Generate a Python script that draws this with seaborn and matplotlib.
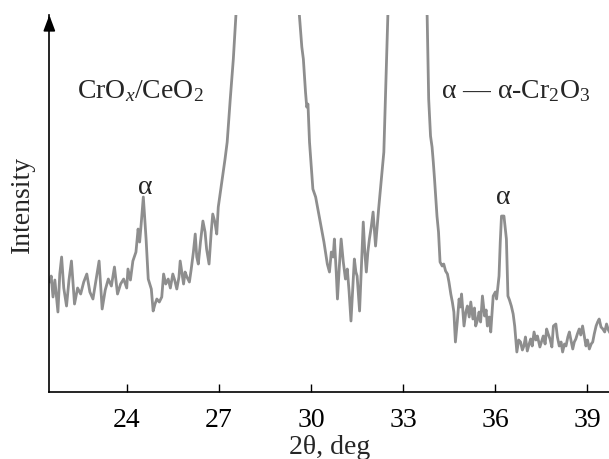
import pandas as pd
import matplotlib
matplotlib.use("Agg")
import matplotlib.pyplot as plt
import seaborn as sns

# XRD pattern of CrOx/CeO2 (arbitrary units)
two_theta = [
    21.50, 21.54, 21.60, 21.66, 21.76, 21.82, 21.88, 21.95, 22.04, 22.12,
    22.20, 22.30, 22.40, 22.50, 22.60, 22.70, 22.80, 22.90, 23.00, 23.10,
    23.20, 23.30, 23.40, 23.50, 23.60, 23.70, 23.80, 23.90, 24.00, 24.04,
    24.12, 24.20, 24.30, 24.37, 24.42, 24.47, 24.54, 24.63, 24.70, 24.80,
    24.86, 24.92, 24.98, 25.06, 25.14, 25.20, 25.27, 25.35, 25.42, 25.50,
    25.56, 25.63, 25.70, 25.74, 25.85, 25.90, 25.96, 26.04, 26.10, 26.17,
    26.23, 26.28, 26.33, 26.40, 26.48, 26.55, 26.60, 26.68, 26.75, 26.80,
    26.87, 26.93, 26.98, 27.04, 27.13, 27.20, 27.27, 27.37, 27.47, 27.57,
    27.70, 27.90, 28.10, 28.30, 28.50, 28.70, 28.90, 29.10, 29.30, 29.50,
    29.62, 29.70, 29.75, 29.82, 29.86, 29.90, 29.95, 30.06, 30.15, 30.24,
    30.30, 30.36, 30.42, 30.47, 30.53, 30.60, 30.66, 30.72, 30.76, 30.82,
    30.86, 30.92, 30.98, 31.05, 31.12, 31.18, 31.24, 31.30, 31.36, 31.41,
    31.46, 31.50, 31.58, 31.64, 31.70, 31.75, 31.80, 31.85, 31.90, 31.96,
    32.02, 32.10, 32.15, 32.20, 32.25, 32.31, 32.37, 32.42, 32.50, 32.60,
    32.80, 33.00, 33.15, 33.35, 33.55, 33.70, 33.78, 33.83, 33.89, 33.94,
    33.98, 34.02, 34.10, 34.15, 34.20, 34.27, 34.32, 34.38, 34.44, 34.49,
    34.55, 34.60, 34.65, 34.70, 34.76, 34.82, 34.86, 34.90, 34.98, 35.04,
    35.09, 35.15, 35.20, 35.27, 35.32, 35.36, 35.42, 35.47, 35.52, 35.58,
    35.65, 35.70, 35.74, 35.80, 35.85, 35.93, 36.00, 36.04, 36.12, 36.16,
    36.20, 36.28, 36.32, 36.36, 36.41, 36.46, 36.52, 36.58, 36.63, 36.70,
    36.76, 36.82, 36.88, 36.93, 36.98, 37.04, 37.10, 37.15, 37.20, 37.26,
    37.32, 37.37, 37.45, 37.50, 37.56, 37.62, 37.67, 37.72, 37.78, 37.84,
    37.89, 37.97, 38.02, 38.08, 38.14, 38.19, 38.25, 38.30, 38.36, 38.41,
    38.46, 38.52, 38.57, 38.62, 38.67, 38.73, 38.78, 38.84, 38.90, 38.95,
    39.00, 39.06, 39.12, 39.17, 39.22, 39.28, 39.33, 39.38, 39.44, 39.50,
    39.56, 39.62, 39.68, 39.75,
]
intensity = [
    110, 116, 95, 112, 80, 118, 135, 104, 86, 112,
    131, 88, 104, 98, 110, 118, 100, 93, 112, 131,
    83, 102, 113, 106, 125, 98, 108, 113, 104, 123,
    112, 131, 140, 163, 150, 168, 195, 153, 113, 103,
    81, 88, 93, 90, 95, 118, 108, 113, 104, 118,
    112, 103, 115, 131, 108, 120, 115, 110, 123, 140,
    158, 135, 128, 150, 171, 160, 143, 128, 160, 178,
    170, 158, 185, 198, 218, 233, 250, 293, 333, 385,
    520, 800, 1300, 2100, 2600, 2000, 1300, 800, 560, 420,
    377, 345, 333, 300, 285, 288, 250, 203, 195, 180,
    170, 160, 150, 140, 128, 120, 140, 135, 153, 120,
    93, 125, 153, 130, 113, 123, 100, 71, 105, 133,
    120, 116, 81, 125, 170, 140, 120, 140, 153, 165,
    180, 146, 165, 183, 200, 220, 240, 293, 376, 480,
    800, 1200, 1400, 1000, 600, 420, 376, 293, 256, 245,
    230, 213, 176, 160, 130, 126, 128, 121, 118, 110,
    98, 90, 80, 50, 70, 93, 85, 98, 66, 80,
    86, 75, 90, 73, 84, 66, 72, 80, 70, 96,
    76, 82, 66, 75, 60, 96, 100, 93, 116, 150,
    176, 176, 165, 153, 96, 92, 86, 78, 66, 40,
    52, 50, 42, 46, 55, 41, 48, 53, 46, 60,
    52, 56, 45, 50, 56, 48, 63, 58, 53, 45,
    66, 68, 55, 46, 50, 40, 48, 46, 55, 60,
    52, 43, 50, 53, 58, 63, 57, 66, 55, 46,
    52, 43, 48, 50, 58, 66, 70, 73, 65, 63,
    60, 68, 62, 58,
]

# peak markers (alpha-Cr2O3)
alpha_pos = [24.6, 36.26]
alpha_height = [206, 196]

df = pd.DataFrame({"two_theta": two_theta, "intensity": intensity})

sns.set_theme(style="white")
plt.rcParams["font.family"] = ["Liberation Serif", "DejaVu Serif"]
plt.rcParams["mathtext.fontset"] = "custom"
plt.rcParams["mathtext.rm"] = "Liberation Serif"
plt.rcParams["mathtext.it"] = "Liberation Serif:italic"

fig = plt.figure(figsize=(6.09, 4.60), dpi=100)
ax = fig.add_axes([0.081, 0.1457, 0.919, 0.8193])

sns.lineplot(data=df, x="two_theta", y="intensity", ax=ax,
             color="#8e8e8e", linewidth=2.0, estimator=None)

ax.set_xlim(21.48, 39.7)
ax.set_ylim(0, 377)
ax.set_xticks([24, 27, 30, 33, 36, 39])
ax.set_yticks([])
ax.tick_params(axis="x", direction="in", length=6, width=1, pad=11,
               labelsize=20, colors="black", bottom=True)

for side in ["top", "right"]:
    ax.spines[side].set_visible(False)
for side in ["left", "bottom"]:
    ax.spines[side].set_color("black")
    ax.spines[side].set_linewidth(1.2)

# arrow on top of the y axis
ax.annotate("", xy=(0, 1.0), xytext=(0, 0.96), xycoords="axes fraction",
            arrowprops=dict(arrowstyle="-|>,head_length=0.8,head_width=0.3",
                            color="black", lw=1.2, shrinkA=0, shrinkB=0))

ax.set_xlabel("2θ, deg", fontsize=20, labelpad=1)
ax.set_ylabel("Intensity", fontsize=20, labelpad=10)

ax.text(0.162, 0.80, r"CrO$_x$/CeO$_2$", transform=ax.transAxes,
        fontsize=20, ha="center", va="center")
ax.text(0.834, 0.80, r"α — α-Cr$_2$O$_3$", transform=ax.transAxes,
        fontsize=20, ha="center", va="center")
for xp, yp in zip(alpha_pos, alpha_height):
    ax.text(xp, yp, "α", fontsize=20, ha="center", va="center")

fig.savefig("out.png", dpi=100)
